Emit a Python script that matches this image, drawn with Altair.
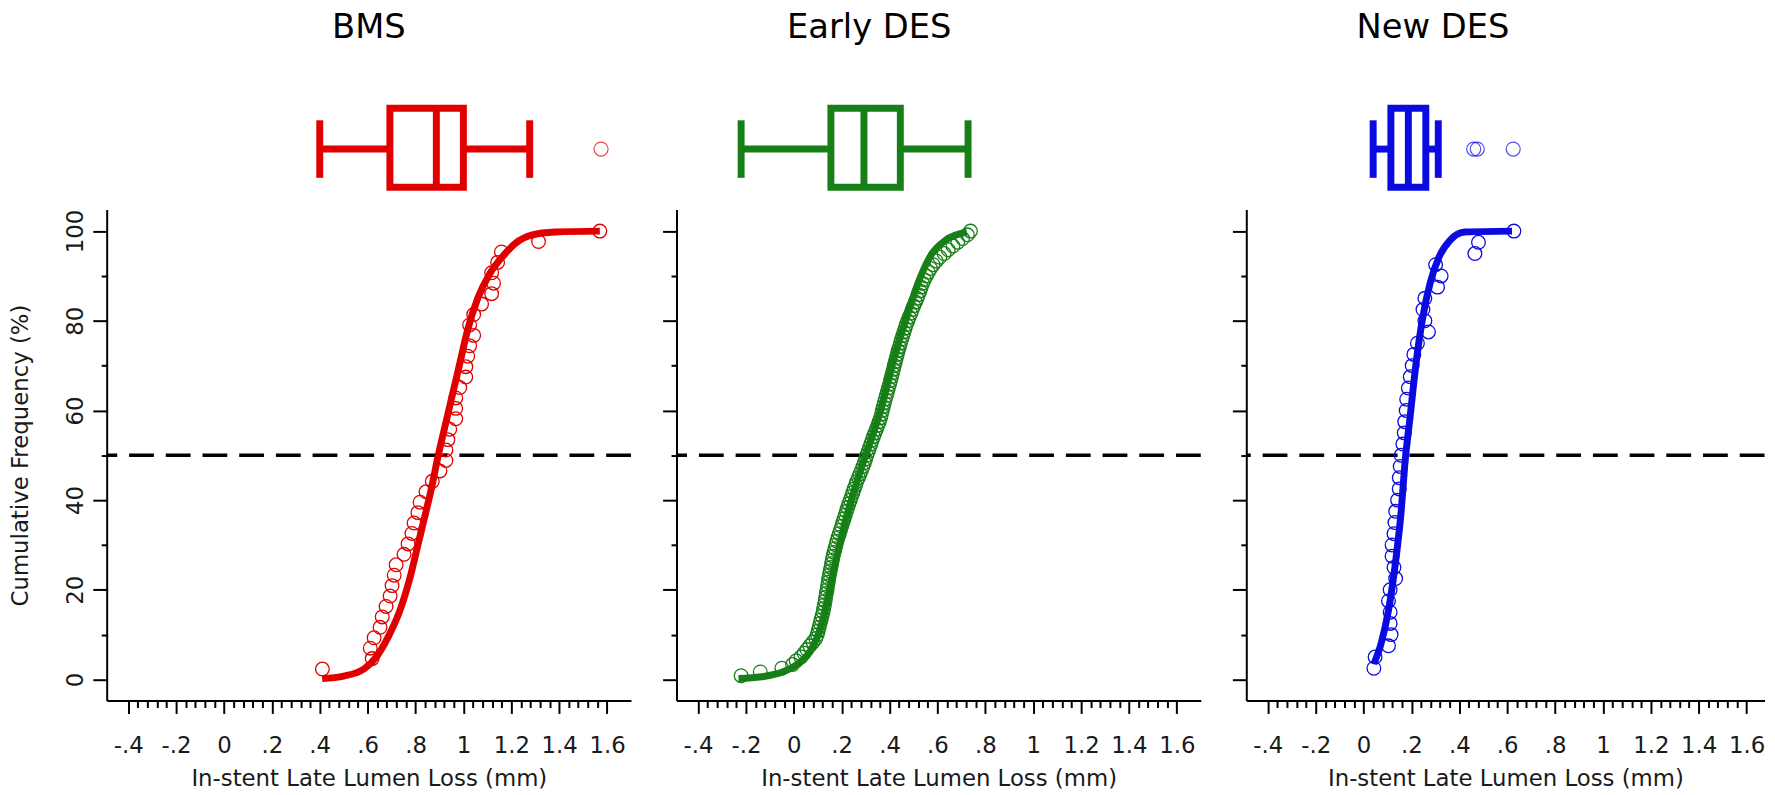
import json
import altair as alt
import pandas as pd

FONT = "DejaVu Sans"
TEXT_COLOR = "#1a1a1a"

PANEL_NAMES = ["BMS", "Early DES", "New DES"]
PANEL_COLORS = ["#E00000", "#177F17", "#0B0BE0"]
TITLE_DX = [0, -70, -73]

X_TICKS = [-0.4, -0.2, 0, 0.2, 0.4, 0.6, 0.8, 1.0, 1.2, 1.4, 1.6]
X_TICK_LABELS = ["-.4", "-.2", "0", ".2", ".4", ".6", ".8", "1", "1.2", "1.4", "1.6"]
X_MINOR_TICKS = [round(-0.4 + 0.04 * i, 2) for i in range(51) if i % 5 != 0]
Y_TICKS = [0, 20, 40, 60, 80, 100]
Y_MINOR_TICKS = [10, 30, 50, 70, 90]
REF_LINE = [50]

X_MIN = -0.49
X_MAX = [1.70, 1.70, 1.675]
Y_MIN, Y_MAX = -4.7, 104.8
PX_PER_UNIT = 241.35
PLOT_H = 495

# Loss values, listed in order of increasing cumulative frequency
BMS_LOSS = [0.411, 0.619, 0.611, 0.627, 0.652, 0.661, 0.677, 0.694, 0.702, 0.711,
            0.719, 0.752, 0.769, 0.785, 0.794, 0.81, 0.819, 0.844, 0.87, 0.902,
            0.927, 0.927, 0.935, 0.943, 0.968, 0.968, 0.968, 0.985, 1.01, 1.01,
            1.018, 1.026, 1.043, 1.026, 1.043, 1.076, 1.118, 1.126, 1.118, 1.143,
            1.159, 1.314, 1.57]
EARLY_LOSS = [-0.22, -0.14, -0.05, -0.005, 0.01, 0.03, 0.043, 0.055, 0.067, 0.08,
              0.092, 0.098, 0.102, 0.106, 0.11, 0.114, 0.118, 0.122, 0.125, 0.128,
              0.131, 0.133, 0.136, 0.139, 0.141, 0.144, 0.146, 0.149, 0.152, 0.155,
              0.158, 0.161, 0.164, 0.168, 0.172, 0.176, 0.18, 0.185, 0.19, 0.195,
              0.2, 0.205, 0.21, 0.215, 0.22, 0.225, 0.23, 0.236, 0.241, 0.247,
              0.252, 0.258, 0.263, 0.27, 0.276, 0.283, 0.289, 0.295, 0.3, 0.305,
              0.311, 0.316, 0.322, 0.327, 0.333, 0.339, 0.345, 0.351, 0.357, 0.362,
              0.366, 0.37, 0.374, 0.378, 0.382, 0.387, 0.391, 0.395, 0.4, 0.404,
              0.408, 0.412, 0.416, 0.42, 0.424, 0.428, 0.432, 0.436, 0.441, 0.445,
              0.45, 0.455, 0.46, 0.465, 0.47, 0.476, 0.482, 0.489, 0.495, 0.501,
              0.508, 0.515, 0.521, 0.527, 0.532, 0.538, 0.545, 0.553, 0.562, 0.571,
              0.582, 0.595, 0.61, 0.628, 0.645, 0.665, 0.685, 0.705, 0.725, 0.738]
NEW_LOSS = [0.043, 0.048, 0.104, 0.115, 0.111, 0.111, 0.104, 0.111, 0.134, 0.127,
            0.119, 0.119, 0.127, 0.131, 0.134, 0.142, 0.149, 0.149, 0.153, 0.157,
            0.164, 0.17, 0.172, 0.178, 0.18, 0.187, 0.195, 0.203, 0.21, 0.225,
            0.271, 0.256, 0.248, 0.256, 0.309, 0.324, 0.301, 0.465, 0.48, 0.628]

# Fitted curves
BMS_FIT_X = [0.41, 0.50, 0.586, 0.636, 0.686, 0.735, 0.777, 0.81, 0.835, 0.868, 0.893,
             0.918, 0.952, 0.985, 1.018, 1.06, 1.11, 1.168, 1.218, 1.284, 1.384, 1.57]
BMS_FIT_Y = [0.2, 0.75, 2.4, 5.0, 9.5, 15.4, 22.7, 30.0, 35.5, 43.0, 49.5,
             55.3, 63.0, 70.5, 78.0, 85.0, 90.5, 94.6, 97.3, 99.1, 99.8, 100]
EARLY_FIT_X = [-0.231, -0.135, -0.05, 0.01, 0.05, 0.08, 0.105, 0.13, 0.155, 0.198,
               0.24, 0.28, 0.317, 0.368, 0.412, 0.464, 0.516, 0.575, 0.635, 0.723]
EARLY_FIT_Y = [0.2, 0.6, 1.6, 3.2, 5.0, 7.4, 10.4, 15.0, 21.5, 31.5,
               40.0, 46.8, 52.5, 61.1, 70.5, 79.6, 88.0, 94.8, 98.0, 99.8]
NEW_FIT_X = [0.043, 0.073, 0.104, 0.134, 0.157, 0.172, 0.195, 0.218, 0.248, 0.278,
             0.316, 0.362, 0.423, 0.62]
NEW_FIT_Y = [3.5, 8.0, 15.4, 26.4, 37.5, 47.8, 58.9, 70.0, 81.0, 88.4,
             94.3, 98.0, 99.8, 100]

# Box plot summaries
BOX_LOW = [0.40, -0.22, 0.04]
BOX_Q1 = [0.693, 0.155, 0.114]
BOX_MED = [0.887, 0.293, 0.187]
BOX_Q3 = [1.0, 0.445, 0.26]
BOX_HIGH = [1.277, 0.728, 0.312]
BOX_OUTLIERS = [[1.575], [], [0.46, 0.475, 0.625]]

LOSSES = [BMS_LOSS, EARLY_LOSS, NEW_LOSS]
FITS = [(BMS_FIT_X, BMS_FIT_Y), (EARLY_FIT_X, EARLY_FIT_Y), (NEW_FIT_X, NEW_FIT_Y)]

LABEL_EXPR = json.dumps(X_TICK_LABELS) + "[round((datum.value + 0.4) / 0.2)]"

# box geometry (pixels above the plot area)
BOX_TOP, BOX_BOTTOM = -102.2, -22.5
CAP_TOP, CAP_BOTTOM = -90, -32
BOX_MID = -61
BOX_STROKE = 7


def make_panel(i):
    color = PANEL_COLORS[i]
    xmax = X_MAX[i]
    width = round((xmax - X_MIN) * PX_PER_UNIT, 1)
    first = i == 0
    xs = alt.Scale(domain=[X_MIN, xmax], nice=False, zero=False)
    ys = alt.Scale(domain=[Y_MIN, Y_MAX], nice=False, zero=False)

    pts = pd.DataFrame({"loss": LOSSES[i], "order": list(range(len(LOSSES[i])))})
    fit = pd.DataFrame({"loss": FITS[i][0], "cum": FITS[i][1]})
    box = pd.DataFrame({"low": [BOX_LOW[i]], "q1": [BOX_Q1[i]], "med": [BOX_MED[i]],
                        "q3": [BOX_Q3[i]], "high": [BOX_HIGH[i]]})
    ref = pd.DataFrame({"y": REF_LINE})

    x_major = alt.Axis(values=X_TICKS, labelExpr=LABEL_EXPR, orient="bottom",
                       tickSize=13, tickWidth=2, tickColor="black",
                       domainWidth=2, domainColor="black", grid=False,
                       labelFont=FONT, labelFontSize=23, labelColor=TEXT_COLOR,
                       labelPadding=39, labelBaseline="alphabetic",
                       labelFlush=False, labelOverlap=False,
                       titleFont=FONT, titleFontSize=23, titleFontWeight="normal",
                       titleColor=TEXT_COLOR, titleY=86, titleBaseline="alphabetic")
    x_minor = alt.Axis(values=X_MINOR_TICKS, orient="bottom", labels=False, domain=False,
                       tickSize=7, tickWidth=2, tickColor="black", grid=False)
    y_kwargs = dict(values=Y_TICKS, orient="left", tickSize=14, tickWidth=2,
                    tickColor="black", domainWidth=2, domainColor="black", grid=False,
                    labels=first)
    if first:
        y_kwargs.update(labelAngle=270, labelAlign="center", labelBaseline="alphabetic",
                        labelPadding=10, labelFont=FONT, labelFontSize=23,
                        labelColor=TEXT_COLOR, labelFlush=False, labelOverlap=False,
                        titleFont=FONT, titleFontSize=23, titleFontWeight="normal",
                        titleColor=TEXT_COLOR, titleAngle=270, titleX=-86.5,
                        titleY=PLOT_H / 2, titleAlign="center", titleBaseline="middle")
    y_major = alt.Axis(**y_kwargs)
    y_minor = alt.Axis(values=Y_MINOR_TICKS, orient="left", labels=False, domain=False,
                       tickSize=5.5, tickWidth=2, tickColor="black", grid=False)

    ref_layer = alt.Chart(ref).mark_rule(color="black", strokeWidth=3.5,
                                         strokeDash=[25, 12]).encode(
        y=alt.Y("y:Q", scale=ys, axis=None))

    minor_layer = alt.Chart(fit).mark_point(opacity=0).encode(
        x=alt.X("loss:Q", scale=xs, axis=x_minor, title=None),
        y=alt.Y("cum:Q", scale=ys, axis=y_minor, title=None))

    line_layer = alt.Chart(fit).mark_line(color=color, strokeWidth=7,
                                          interpolate="monotone").encode(
        x=alt.X("loss:Q", scale=xs, axis=x_major, title="In-stent Late Lumen Loss (mm)"),
        y=alt.Y("cum:Q", scale=ys, axis=y_major,
                title="Cumulative Frequency (%)" if first else None))

    pt_layer = alt.Chart(pts).transform_window(
        rn="row_number()", sort=[alt.SortField("order")]
    ).transform_joinaggregate(n="count()").transform_calculate(
        cum="datum.rn / datum.n * 100"
    ).mark_point(shape="circle", size=190, strokeWidth=1.3, color=color,
                 filled=False, opacity=1).encode(
        x=alt.X("loss:Q", scale=xs, axis=None),
        y=alt.Y("cum:Q", scale=ys, axis=None))

    base_box = alt.Chart(box)
    rect = base_box.mark_rect(fill="white", stroke=color, strokeWidth=BOX_STROKE).encode(
        x=alt.X("q1:Q", scale=xs, axis=None), x2="q3:Q",
        y=alt.value(BOX_TOP), y2=alt.value(BOX_BOTTOM))
    med = base_box.mark_rule(color=color, strokeWidth=BOX_STROKE).encode(
        x=alt.X("med:Q", scale=xs, axis=None),
        y=alt.value(BOX_TOP), y2=alt.value(BOX_BOTTOM))
    wl = base_box.mark_rule(color=color, strokeWidth=BOX_STROKE).encode(
        x=alt.X("low:Q", scale=xs, axis=None), x2="q1:Q", y=alt.value(BOX_MID))
    wh = base_box.mark_rule(color=color, strokeWidth=BOX_STROKE).encode(
        x=alt.X("q3:Q", scale=xs, axis=None), x2="high:Q", y=alt.value(BOX_MID))
    cl = base_box.mark_rule(color=color, strokeWidth=BOX_STROKE).encode(
        x=alt.X("low:Q", scale=xs, axis=None),
        y=alt.value(CAP_TOP), y2=alt.value(CAP_BOTTOM))
    ch = base_box.mark_rule(color=color, strokeWidth=BOX_STROKE).encode(
        x=alt.X("high:Q", scale=xs, axis=None),
        y=alt.value(CAP_TOP), y2=alt.value(CAP_BOTTOM))
    layers = [ref_layer, minor_layer, line_layer, pt_layer, wl, wh, cl, ch, rect, med]
    if BOX_OUTLIERS[i]:
        outl = pd.DataFrame({"loss": BOX_OUTLIERS[i]})
        layers.append(alt.Chart(outl).mark_point(shape="circle", size=200, strokeWidth=1.2,
                                                 color=color, filled=False).encode(
            x=alt.X("loss:Q", scale=xs, axis=None), y=alt.value(BOX_MID)))

    return alt.layer(*layers).resolve_axis(x="independent", y="independent").properties(
        width=width, height=PLOT_H,
        title=alt.TitleParams(text=PANEL_NAMES[i], anchor="middle", frame="group",
                              dx=TITLE_DX[i], offset=60, font=FONT, fontSize=34,
                              fontWeight="normal", color="black"))


chart = alt.hconcat(*[make_panel(i) for i in range(3)], spacing=28.5).properties(
    padding={"left": 1.5, "top": 0, "right": 0, "bottom": 0},
    background="white"
).configure_view(stroke="transparent", strokeWidth=0)

chart.save("out.html", embed_options={"renderer": "svg", "actions": False})
